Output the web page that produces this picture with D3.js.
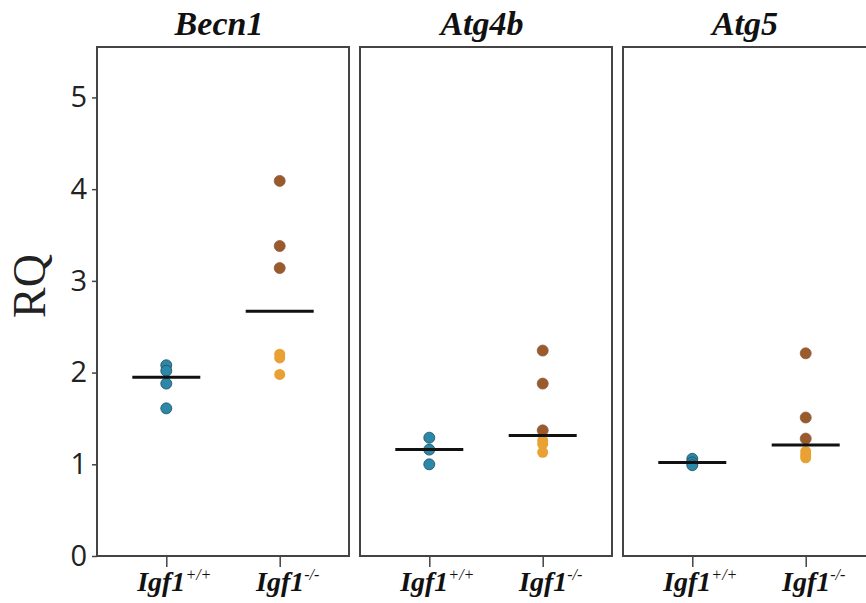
<!DOCTYPE html>
<html>
<head>
<meta charset="utf-8">
<script src="https://cdn.jsdelivr.net/npm/d3@7"></script>
<style>
  body { margin: 0; background: #fff; }
  svg { display: block; }
</style>
</head>
<body>
<svg id="chart" width="866" height="603"></svg>
<script>
// genes (panels) and genotype groups
let genes = ["Becn1", "Atg4b", "Atg5"];
let groups = ["+/+", "-/-"];
let yTicks = [0, 1, 2, 3, 4, 5];

// RQ values, one array per gene
let wtValues = [[2.08, 2.02, 1.88, 1.61], [1.29, 1.16, 1.00], [1.06, 1.02, 0.99]];
let koBrown = [[4.09, 3.38, 3.14], [2.24, 1.88, 1.37], [2.21, 1.51, 1.28]];
let koOrange = [[2.20, 2.16, 1.98], [1.26, 1.22, 1.13], [1.14, 1.10, 1.07]];

let plotTop = 47, plotBottom = 556;

let svg = d3.select("#chart");

let y = d3.scaleLinear().domain([0, 5.55]).range([plotBottom, plotTop]);

let panel = d3.scaleBand()
    .domain(genes)
    .range([97, 875])
    .paddingInner(0.0418)
    .paddingOuter(0);

let xIn = d3.scalePoint()
    .domain(groups)
    .range([0, panel.bandwidth()])
    .padding(0.611);

// y axis on the first panel only
svg.append("g")
    .attr("transform", "translate(" + panel(genes[0]) + ",0)")
    .call(d3.axisLeft(y).tickValues(yTicks).tickSize(5).tickPadding(5).tickFormat(d3.format("d")))
    .call(g => g.select(".domain").remove())
    .call(g => g.selectAll("line").attr("stroke", "#444").attr("stroke-width", 1.5))
    .call(g => g.selectAll("text")
        .attr("font-family", "'Open Sans', sans-serif")
        .attr("font-size", 29)
        .attr("fill", "#222"));

svg.append("text")
    .attr("transform", "translate(45,286) rotate(-90)")
    .attr("text-anchor", "middle")
    .attr("font-family", "'Liberation Serif', serif")
    .attr("font-size", 46)
    .attr("fill", "#222")
    .text("RQ");

genes.forEach((gene, i) => {
    let g = svg.append("g")
        .attr("transform", "translate(" + panel(gene) + ",0)");

    // x ticks below the panel
    g.append("g")
        .attr("transform", "translate(0," + plotBottom + ")")
        .call(d3.axisBottom(xIn).tickSize(11).tickFormat(""))
        .call(a => a.select(".domain").remove())
        .call(a => a.selectAll("line").attr("stroke", "#444").attr("stroke-width", 1.5));

    let labels = g.selectAll(".xlab")
        .data(groups)
        .enter().append("text")
        .attr("class", "xlab")
        .attr("x", (d) => xIn(d) + 8)
        .attr("y", 591)
        .attr("text-anchor", "middle")
        .attr("font-family", "'Liberation Serif', serif")
        .attr("font-style", "italic")
        .attr("fill", "#111");
    labels.append("tspan")
        .attr("font-size", 28)
        .attr("font-weight", "bold")
        .text("Igf1");
    labels.append("tspan")
        .attr("font-size", 16)
        .attr("dy", -11)
        .text((d) => d);

    // panel frame
    g.append("rect")
        .attr("x", 0)
        .attr("y", plotTop)
        .attr("width", panel.bandwidth())
        .attr("height", plotBottom - plotTop)
        .attr("fill", "none")
        .attr("stroke", "#444")
        .attr("stroke-width", 2);

    g.append("text")
        .attr("x", panel.bandwidth() / 2 - 4)
        .attr("y", 35)
        .attr("text-anchor", "middle")
        .attr("font-family", "'Liberation Serif', serif")
        .attr("font-style", "italic")
        .attr("font-weight", "bold")
        .attr("font-size", 34)
        .attr("fill", "#111")
        .text(gene);

    let points = [];
    wtValues[i].forEach((v) => points.push({group: groups[0], value: v, fill: "#2c88a9", stroke: "#1d4a5a"}));
    koBrown[i].forEach((v) => points.push({group: groups[1], value: v, fill: "#9b5a29", stroke: "#8a5a45"}));
    koOrange[i].forEach((v) => points.push({group: groups[1], value: v, fill: "#e9a133", stroke: "none"}));

    g.selectAll("circle")
        .data(points)
        .enter().append("circle")
        .attr("cx", (d) => xIn(d.group))
        .attr("cy", (d) => y(d.value))
        .attr("r", 5.5)
        .attr("fill", (d) => d.fill)
        .attr("stroke", (d) => d.stroke)
        .attr("stroke-width", 0.8);

    // median lines
    let medians = [
        {group: groups[0], value: d3.median(wtValues[i])},
        {group: groups[1], value: d3.median(koBrown[i].concat(koOrange[i]))}
    ];
    g.selectAll(".med")
        .data(medians)
        .enter().append("line")
        .attr("class", "med")
        .attr("x1", (d) => xIn(d.group) - 34)
        .attr("x2", (d) => xIn(d.group) + 34)
        .attr("y1", (d) => y(d.value))
        .attr("y2", (d) => y(d.value))
        .attr("stroke", "#111")
        .attr("stroke-width", 3);
});
</script>
</body>
</html>
